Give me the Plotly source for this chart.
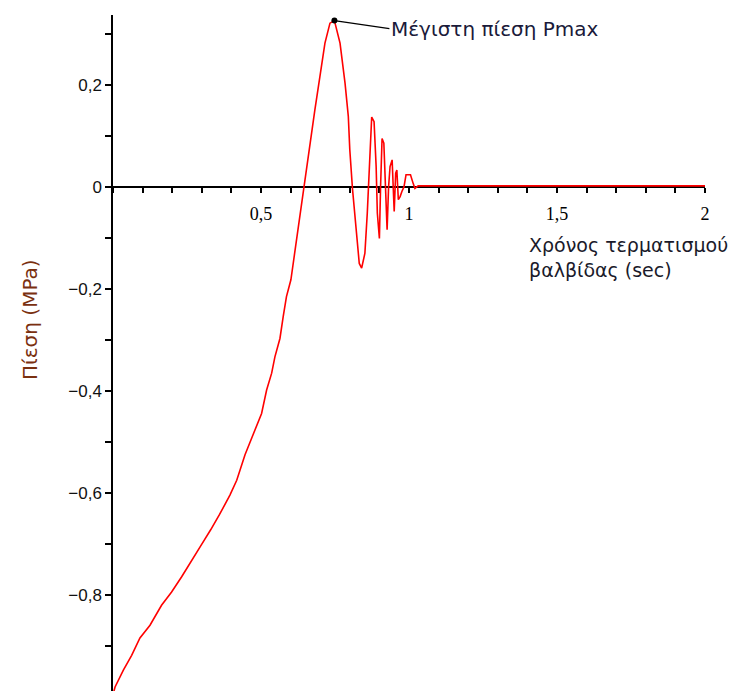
import plotly.graph_objects as go

# Time (sec) and pressure (MPa)
time_s = [0.0, 0.007, 0.035, 0.063, 0.091, 0.125, 0.164, 0.198, 0.232, 0.266,
          0.30, 0.33, 0.36, 0.395, 0.418, 0.446, 0.474, 0.502, 0.519, 0.536,
          0.547, 0.564, 0.575, 0.586, 0.601, 0.62, 0.643, 0.666, 0.682, 0.699,
          0.716, 0.733, 0.748, 0.767, 0.784, 0.795, 0.80, 0.809, 0.821, 0.832,
          0.840, 0.851, 0.859, 0.866, 0.871, 0.874, 0.882, 0.889, 0.893, 0.900,
          0.904, 0.909, 0.915, 0.920, 0.926, 0.931, 0.936, 0.943, 0.947, 0.950,
          0.955, 0.959, 0.964, 0.970, 0.976, 0.983, 0.990, 1.005, 1.014, 1.020,
          1.031, 2.0]
pressure_mpa = [-0.995, -0.980, -0.947, -0.918, -0.884, -0.859, -0.820, -0.794, -0.764, -0.731,
                -0.700, -0.672, -0.642, -0.604, -0.575, -0.525, -0.483, -0.444, -0.398, -0.365,
                -0.333, -0.297, -0.254, -0.215, -0.182, -0.104, -0.003, 0.092, 0.151, 0.216,
                0.282, 0.321, 0.326, 0.282, 0.203, 0.138, 0.073, -0.003, -0.084, -0.150,
                -0.159, -0.130, -0.052, 0.027, 0.086, 0.137, 0.128, 0.040, -0.051, -0.101,
                0.001, 0.095, 0.086, 0.0, -0.084, 0.0, 0.040, 0.053, 0.0, -0.048,
                0.027, 0.033, -0.025, -0.019, -0.009, 0.0, 0.024, 0.024, 0.007, -0.003,
                0.002, 0.002]

x_tickvals = [0.5, 1, 1.5, 2]
x_ticktext = ["0,5", "1", "1,5", "2"]
y_tickvals = [-0.8, -0.6, -0.4, -0.2, 0, 0.2]
y_ticktext = ["\u22120,8", "\u22120,6", "\u22120,4", "\u22120,2", "0", "0,2"]

x_range = [0, 2]
y_range = [-0.988, 0.337]

peak_i = max(range(len(pressure_mpa)), key=lambda i: pressure_mpa[i])
peak_t, peak_p = time_s[peak_i], pressure_mpa[peak_i]

fig = go.Figure()
fig.add_trace(go.Scatter(x=time_s, y=pressure_mpa, mode="lines",
                         line=dict(color="#ff0000", width=1.6), showlegend=False,
                         hoverinfo="skip"))
fig.add_trace(go.Scatter(x=[peak_t], y=[peak_p], mode="markers",
                         marker=dict(color="black", size=6), showlegend=False))

zero_pos = (0 - y_range[0]) / (y_range[1] - y_range[0])
pw = 733 - 113 - 28
ph = 691 - 15

fig.update_layout(
    width=733, height=691,
    margin=dict(l=113, r=28, t=15, b=0),
    plot_bgcolor="white", paper_bgcolor="white",
    xaxis=dict(range=x_range, anchor="free", position=zero_pos,
               showline=True, linecolor="black", linewidth=1.5,
               showgrid=False, zeroline=False, layer="below traces",
               tickmode="array", tickvals=x_tickvals, ticktext=x_ticktext,
               ticks="outside", ticklen=5, tickcolor="black", tickwidth=1.5,
               ticklabelstandoff=6,
               minor=dict(dtick=0.1, tick0=0, ticks="outside", ticklen=5,
                          tickcolor="black", tickwidth=1.5, showgrid=False),
               tickfont=dict(family="Liberation Serif", size=18, color="black")),
    yaxis=dict(range=y_range, showline=True, linecolor="black", linewidth=1.5,
               showgrid=False, zeroline=False,
               tickmode="array", tickvals=y_tickvals, ticktext=y_ticktext,
               ticks="outside", ticklen=6, tickcolor="black", tickwidth=1.5,
               minor=dict(dtick=0.1, tick0=0, ticks="outside", ticklen=6,
                          tickcolor="black", tickwidth=1.5, showgrid=False),
               tickfont=dict(family="Liberation Sans", size=17, color="#111111")),
    annotations=[
        dict(x=peak_t, y=peak_p, xref="x", yref="y",
             text="Μέγιστη πίεση Pmax", showarrow=True, arrowhead=0,
             arrowwidth=1.2, arrowcolor="black",
             ax=55, ay=8, xanchor="left", yanchor="middle",
             font=dict(family="DejaVu Sans", size=20, color="#1a1a3a")),
        dict(text="Χρόνος τερματισμού<br>βαλβίδας (sec)", xref="paper", yref="paper",
             x=(527 - 113) / pw, y=1 - (232 - 15) / ph,
             xanchor="left", yanchor="top", align="left", showarrow=False,
             font=dict(family="DejaVu Sans", size=19, color="#1a1a2a")),
        dict(text="Πίεση (MPa)", xref="paper", yref="paper",
             x=(30 - 113) / pw, y=1 - (320 - 15) / ph,
             xanchor="center", yanchor="middle", textangle=-90, showarrow=False,
             font=dict(family="DejaVu Sans", size=20, color="#7a3010")),
    ],
)

fig.write_html("out.html")
